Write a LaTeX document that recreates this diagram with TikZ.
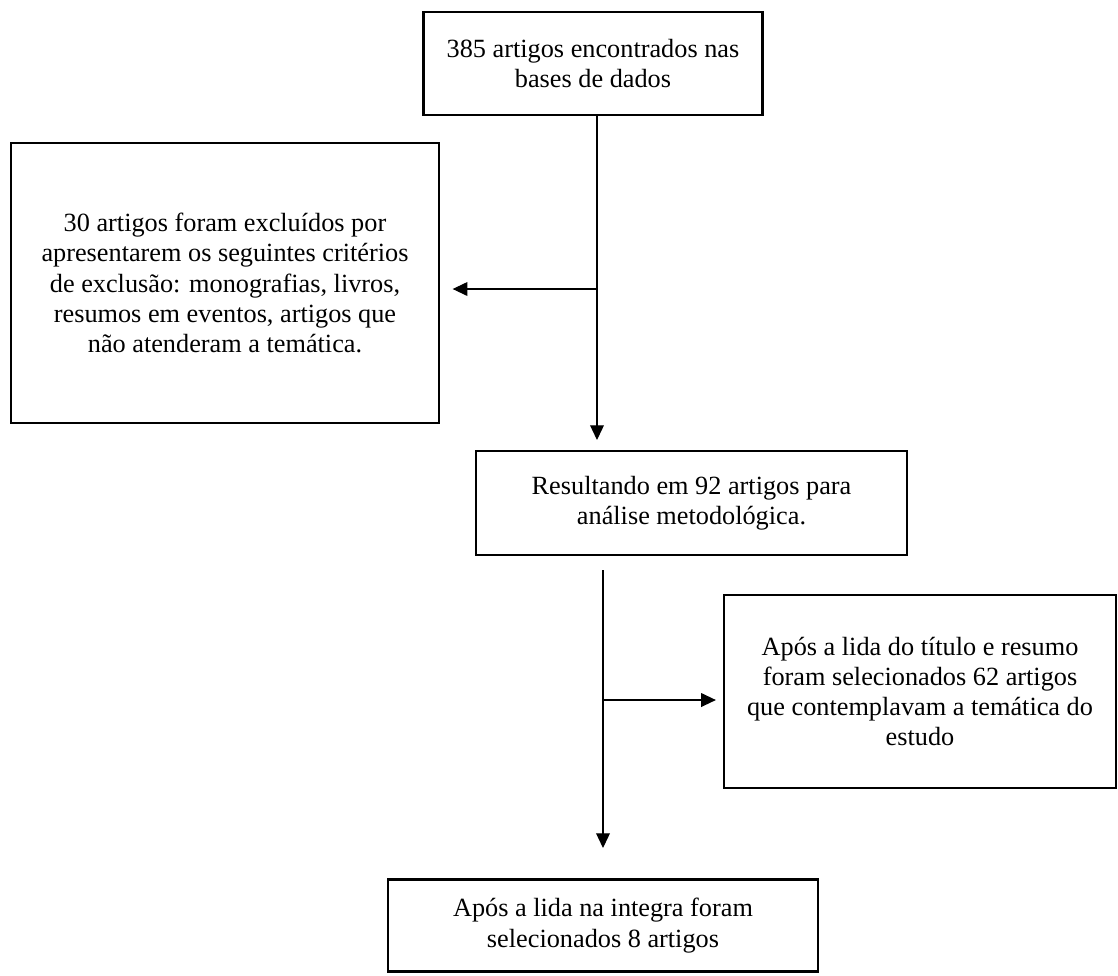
\documentclass[tikz,border=0pt]{standalone}
\usepackage{fontspec}
\setmainfont{Liberation Serif}
\usepackage{tikz}
\usetikzlibrary{arrows.meta,positioning}

\begin{document}
\begin{tikzpicture}[x=0.51pt,y=-0.51pt,
    box/.style={draw, line width=1.2pt, align=center, inner sep=0pt,
        font=\fontsize{13.4}{15.4}\selectfont},
    flow/.style={line width=0.6pt, -{Triangle[length=7.5pt,width=7pt]}}]
    \useasboundingbox (0,0) rectangle (1118,975);

    % \node[box, size] (identifier) at (position) {display};
    \node[box, minimum width=173pt, minimum height=52.5pt] (found) at (593,63.5)
        {385 artigos encontrados nas\\bases de dados};
    \node[box, minimum width=218pt, minimum height=142.8pt] (excl) at (225,283)
        {30 artigos foram excluídos por\\apresentarem os seguintes critérios\\de exclusão: monografias, livros,\\resumos em eventos, artigos que\\não atenderam a temática.};
    \node[box, minimum width=219.8pt, minimum height=53pt] (result) at (691.5,503)
        {Resultando em 92 artigos para\\análise metodológica.};
    \node[box, minimum width=200pt, minimum height=98.4pt] (title) at (920,691.5)
        {Após a lida do título e resumo\\foram selecionados 62 artigos\\que contemplavam a temática do\\estudo};
    \node[box, minimum width=219.3pt, minimum height=47pt] (full) at (603,925.5)
        {Após a lida na integra foram\\selecionados 8 artigos};

    % free ends and branch points of the connectors
    \coordinate (j1) at (597,289);
    \coordinate (t1) at (597,440);
    \coordinate (s2) at (603,570);
    \coordinate (j2) at (603,700);
    \coordinate (t2) at (603,848);

    % (start) -- (end)
    \draw[flow] (found.south -| t1) -- (t1);
    \draw[flow, shorten >=6.5pt] (j1) -- (j1 -| excl.east);
    \draw[flow] (s2) -- (t2);
    \draw[flow, shorten >=3.5pt] (j2) -- (j2 -| title.west);
\end{tikzpicture}
\end{document}
